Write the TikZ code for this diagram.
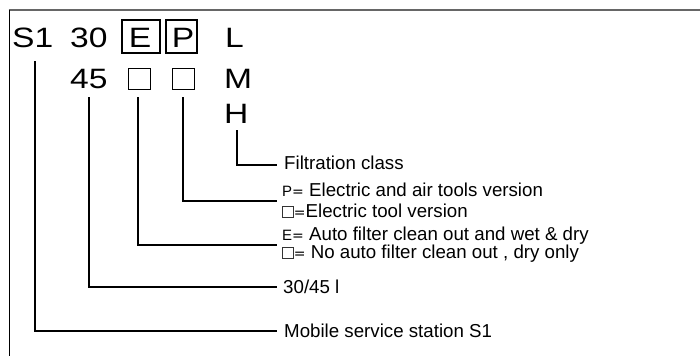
\documentclass[tikz,border=0pt]{standalone}
\usepackage{fontspec}
\setmainfont{Liberation Sans}
\newfontfamily\symfont{DejaVu Sans}
\newfontfamily\widefont[FakeStretch=1.2]{Liberation Sans}
\newcommand{\sq}{\tikz[baseline=0pt]\draw[line width=0.7pt, black!80] (0,0) rectangle (11pt,11pt);}
\newcommand{\eqs}{{\symfont\fontsize{14}{14}\selectfont =}}
\begin{document}
\begin{tikzpicture}[x=1pt,y=-1pt,
  big/.style={font=\widefont\fontsize{28}{28}\selectfont, inner sep=0pt, anchor=base west},
  bigc/.style={font=\widefont\fontsize{28}{28}\selectfont, inner sep=0pt, anchor=base},
  lbl/.style={font=\fontsize{18.7}{18.7}\selectfont, inner sep=0pt, anchor=base west},
  conn/.style={line width=1.4pt},
  codebox/.style={draw, line width=1.4pt, inner sep=0pt},
  smallbox/.style={draw, line width=1pt, inner sep=0pt, minimum width=22pt, minimum height=21pt}]
\useasboundingbox (0,0) rectangle (700,356);
% frame
\draw[line width=1.8pt, black!60] (8.5,10) -- (700,10);
\draw[line width=1pt] (9,10) -- (9,356);
% top row
\node[big] (s1) at (12,47) {S1};
\node[big] (n30) at (70,47) {30};
\node[codebox, minimum width=38pt, minimum height=33pt] (boxE) at (141,36.5) {};
\node[bigc] (E) at (140,47) {E};
\node[codebox, minimum width=31pt, minimum height=33pt] (boxP) at (181.5,36.5) {};
\node[bigc] (P) at (183,47) {P};
\node[big] (L) at (225,47) {L};
% second row
\node[big] (n45) at (70,88) {45};
\node[smallbox] (sqE) at (139,78.5) {};
\node[smallbox] (sqP) at (183,78.5) {};
\node[big] (M) at (224,88) {M};
% third row
\node[big] (H) at (224,123) {H};
% labels
\node[lbl] (filt) at (284,169) {Filtration class};
\node[lbl] (pver) at (282,196) {{\fontsize{15}{15}\selectfont P}\eqs{} Electric and air tools version};
\node[lbl] (ever) at (282,217) {\sq\eqs{}Electric tool version};
\node[lbl] (eauto) at (282,240.5) {{\fontsize{15}{15}\selectfont E}\eqs{} Auto filter clean out and wet \& dry};
\node[lbl] (noauto) at (282,258.5) {\sq\eqs{} No auto filter clean out , dry only};
\node[lbl] (vol) at (283,293) {30/45 l};
\node[lbl] (mob) at (284,337) {Mobile service station S1};
% connector start/end points
\coordinate (hS) at (237,130);
\coordinate (hE) at (277,165);
\coordinate (pS) at (183,97);
\coordinate (pE) at (277,201);
\coordinate (eS) at (138,97);
\coordinate (eE) at (277,245);
\coordinate (vS) at (89,97);
\coordinate (vE) at (277,287);
\coordinate (sS) at (35,61);
\coordinate (sE) at (277,331);
\draw[conn] (hS) |- (hE);
\draw[conn] (pS) |- (pE);
\draw[conn] (eS) |- (eE);
\draw[conn] (vS) |- (vE);
\draw[conn] (sS) |- (sE);
\end{tikzpicture}
\end{document}
